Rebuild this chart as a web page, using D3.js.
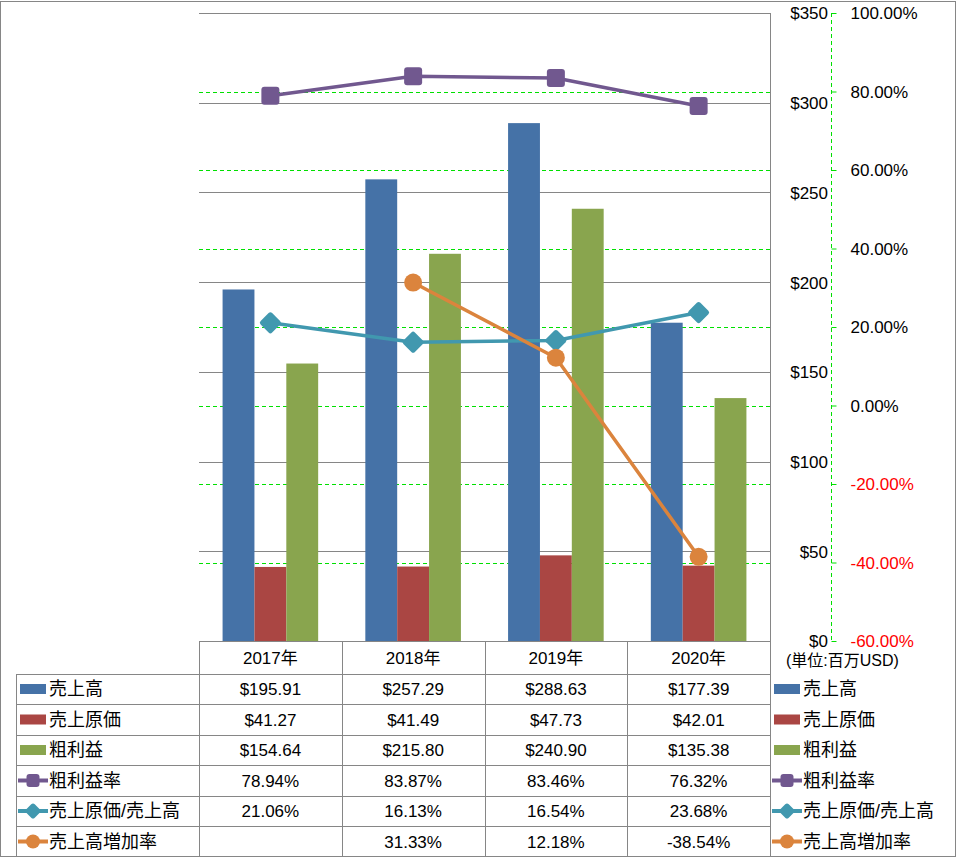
<!DOCTYPE html>
<html><head><meta charset="utf-8">
<script src="https://cdn.jsdelivr.net/npm/d3@7"></script>
<style>
html,body{margin:0;padding:0;background:#fff;}
svg text{font-family:"Liberation Sans","Noto Sans CJK JP",sans-serif;}
</style></head>
<body><svg id="c" width="957" height="858"></svg>
<script>
const years = ["2017年","2018年","2019年","2020年"];
const sales = [195.91,257.29,288.63,177.39];
const cogs = [41.27,41.49,47.73,42.01];
const gross = [154.64,215.80,240.90,135.38];
const grossMargin = [78.94,83.87,83.46,76.32];
const cogsRatio = [21.06,16.13,16.54,23.68];
const salesGrowth = [null,31.33,12.18,-38.54];
const usdTicks = [0,50,100,150,200,250,300,350];
const pctTicks = [-60,-40,-20,0,20,40,60,80,100];
const seriesNames = ["売上高","売上原価","粗利益","粗利益率","売上原価/売上高","売上高増加率"];
const unitLabel = "(単位:百万USD)";

const colors = {blue:"#4572A7", red:"#AA4643", green:"#89A54E", purple:"#71588F", teal:"#4198AF", orange:"#DB843D"};
const gridGray = "#868686", gridGreen = "#00e000";

const L = 199, R = 770, T = 13, B = 641;
const svg = d3.select("#c");

const x0 = d3.scaleBand().domain(years).range([L, R]).paddingInner(0).paddingOuter(0);
const barKeys = [0,1,2];
const xb = d3.scaleBand().domain(barKeys).range([0, x0.bandwidth()]).paddingInner(0).paddingOuter(0.74);
const yL = d3.scaleLinear().domain([0,350]).range([B, T]);
const yR = d3.scaleLinear().domain([-60,100]).range([B, T]);

// outer border
svg.append("rect").attr("x",0.5).attr("y",1.5).attr("width",955).attr("height",855)
  .attr("fill","none").attr("stroke",gridGray).attr("stroke-width",1);

// gray gridlines ($)
svg.append("g").selectAll("line").data(usdTicks.filter(d=>d>0)).join("line")
  .attr("x1",L).attr("x2",R).attr("y1",d=>Math.round(yL(d))+0.5).attr("y2",d=>Math.round(yL(d))+0.5)
  .attr("stroke",gridGray).attr("stroke-width",1);
// green dashed gridlines (%)
svg.append("g").selectAll("line").data(pctTicks.filter(d=>d>-60 && d<100)).join("line")
  .attr("x1",L).attr("x2",R).attr("y1",d=>Math.round(yR(d))+0.5).attr("y2",d=>Math.round(yR(d))+0.5)
  .attr("stroke",gridGreen).attr("stroke-width",1).attr("stroke-dasharray","4,3");

// bars
const barData = [sales,cogs,gross];
const barColors = [colors.blue,colors.red,colors.green];
years.forEach((yr,i)=>{
  barKeys.forEach(k=>{
    const v = barData[k][i];
    svg.append("rect")
      .attr("x", x0(yr)+xb(k)).attr("width", xb.bandwidth())
      .attr("y", yL(v)).attr("height", yL(0)-yL(v))
      .attr("fill", barColors[k]);
  });
});

// $ axis (right side of plot)
svg.append("line").attr("x1",R+0.5).attr("x2",R+0.5).attr("y1",T).attr("y2",857).attr("stroke",gridGray);
const axL = d3.axisLeft(yL).tickValues(usdTicks).tickSize(0).tickPadding(0).tickFormat(d=>"$"+d);
const gL = svg.append("g").attr("transform","translate(828,0)").call(axL);
gL.select(".domain").remove();
gL.selectAll("text").attr("font-size",17).attr("fill","#000").attr("dy","0.35em");

// % axis
const axR = d3.axisRight(yR).tickValues(pctTicks).tickSize(5).tickPadding(14).tickFormat(d=>d.toFixed(2)+"%");
const gR = svg.append("g").attr("transform","translate(831.5,0)").call(axR);
gR.select(".domain").attr("stroke",gridGreen).attr("stroke-dasharray","4,3").attr("d",`M0,${T}V${B}`);
gR.selectAll(".tick line").attr("stroke",gridGreen);
gR.selectAll("text").attr("font-size",17).attr("fill",d=>d<0?"#ff0000":"#000").attr("dy","0.35em");

// unit label
svg.append("text").attr("x",786).attr("y",666).attr("font-size",16).attr("fill","#000").text(unitLabel);

// markers
function marker(g, type, cx, cy, color, s){
  if(type==="square"){
    g.append("rect").attr("x",cx-s/2).attr("y",cy-s/2).attr("width",s).attr("height",s).attr("rx",3).attr("fill",color);
  } else if(type==="diamond"){
    const a = s/Math.SQRT2;
    g.append("rect").attr("x",-a/2).attr("y",-a/2).attr("width",a).attr("height",a).attr("rx",2.5)
      .attr("transform",`translate(${cx},${cy}) rotate(45)`).attr("fill",color);
  } else {
    g.append("circle").attr("cx",cx).attr("cy",cy).attr("r",s/2).attr("fill",color);
  }
}
const lineSeries = [
  {vals:grossMargin, color:colors.purple, type:"square", size:18},
  {vals:cogsRatio, color:colors.teal, type:"diamond", size:23},
  {vals:salesGrowth, color:colors.orange, type:"circle", size:18}
];
const cx = yr => x0(yr)+x0.bandwidth()/2;
lineSeries.forEach(s=>{
  const g = svg.append("g");
  const pts = years.map((yr,i)=>({yr, v:s.vals[i]})).filter(d=>d.v!==null);
  const line = d3.line().x(d=>cx(d.yr)).y(d=>yR(d.v));
  g.append("path").attr("d",line(pts)).attr("fill","none").attr("stroke",s.color).attr("stroke-width",3.5).attr("stroke-linejoin","round");
  pts.forEach(d=>marker(g,s.type,cx(d.yr),yR(d.v),s.color,s.size));
});

// table
const rowTops = [641,674,704,735,765,796,826,857];
const tg = svg.append("g");
tg.append("line").attr("x1",L).attr("x2",R).attr("y1",641.5).attr("y2",641.5).attr("stroke",gridGray);
rowTops.slice(1,7).forEach(y=>{
  tg.append("line").attr("x1",16).attr("x2",R).attr("y1",y+0.5).attr("y2",y+0.5).attr("stroke",gridGray);
});
tg.append("line").attr("x1",16.5).attr("x2",16.5).attr("y1",674).attr("y2",857).attr("stroke",gridGray);
[L, ...years.map(y=>x0(y)+x0.bandwidth())].forEach(x=>{
  tg.append("line").attr("x1",Math.round(x)+0.5).attr("x2",Math.round(x)+0.5).attr("y1",641).attr("y2",857).attr("stroke",gridGray);
});
years.forEach(yr=>{
  tg.append("text").attr("x",cx(yr)).attr("y",(rowTops[0]+rowTops[1])/2).attr("dy","0.36em")
    .attr("text-anchor","middle").attr("font-size",17).attr("fill","#000").text(yr);
});
const rowVals = [sales,cogs,gross,grossMargin,cogsRatio,salesGrowth];
const rowFmt = [0,1,2].map(()=>v=>"$"+v.toFixed(2)).concat([3,4,5].map(()=>v=>v.toFixed(2)+"%"));
const legendKeys = [
  {kind:"rect",color:colors.blue},{kind:"rect",color:colors.red},{kind:"rect",color:colors.green},
  {kind:"line",color:colors.purple,type:"square",size:13},
  {kind:"line",color:colors.teal,type:"diamond",size:17},
  {kind:"line",color:colors.orange,type:"circle",size:14}
];
function legendKey(g, k, x, cy){
  if(k.kind==="rect"){
    g.append("rect").attr("x",x+2).attr("y",cy-5).attr("width",26).attr("height",10).attr("fill",k.color);
  } else {
    g.append("line").attr("x1",x).attr("x2",x+30).attr("y1",cy).attr("y2",cy).attr("stroke",k.color).attr("stroke-width",4);
    marker(g,k.type,x+15,cy,k.color,k.size);
  }
}
seriesNames.forEach((name,r)=>{
  const cy = (rowTops[r+1]+rowTops[r+2])/2;
  legendKey(tg, legendKeys[r], 18, cy);
  tg.append("text").attr("x",49).attr("y",cy).attr("dy","0.36em").attr("font-size",18).attr("fill","#000").text(name);
  years.forEach((yr,i)=>{
    const v = rowVals[r][i];
    if(v===null) return;
    tg.append("text").attr("x",cx(yr)).attr("y",cy).attr("dy","0.36em").attr("text-anchor","middle")
      .attr("font-size",17).attr("fill","#000").text(rowFmt[r](v));
  });
  legendKey(tg, legendKeys[r], 772, cy);
  tg.append("text").attr("x",803).attr("y",cy).attr("dy","0.36em").attr("font-size",18).attr("fill","#000").text(name);
});
</script></body></html>
